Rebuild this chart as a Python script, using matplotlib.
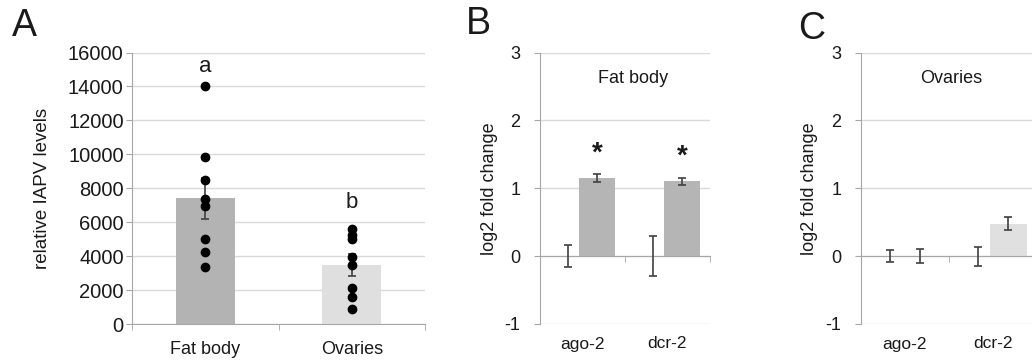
import matplotlib
matplotlib.use("Agg")
import matplotlib.pyplot as plt
import numpy as np

plt.rcParams['font.family'] = ['Liberation Sans', 'DejaVu Sans']
plt.rcParams['font.size'] = 12

# Panel A: relative IAPV levels
tissues = ["Fat body", "Ovaries"]
iapv_mean = [7410, 3470]
iapv_sem = [1220, 640]
iapv_points = [
    [14000, 9850, 8500, 7350, 6950, 5000, 4250, 3350],
    [5600, 5250, 5000, 3950, 3450, 2100, 1600, 900],
]
iapv_letters = ["a", "b"]
iapv_letter_y = [15200, 7150]

# Panels B and C: log2 fold change (control vs treatment)
genes = ["ago-2", "dcr-2"]
fat_ctrl = [0.0, 0.0]
fat_ctrl_err = [0.16, 0.30]
fat_treat = [1.15, 1.10]
fat_treat_err = [0.055, 0.05]
fat_signif = ["*", "*"]

ova_ctrl = [0.0, 0.0]
ova_ctrl_err = [0.09, 0.14]
ova_treat = [0.0, 0.48]
ova_treat_err = [0.105, 0.09]

grid_c = "#d9d9d9"
spine_c = "#a6a6a6"
err_c = "#404040"
txt_c = "#1a1a1a"

fig = plt.figure(figsize=(10.32, 3.6), dpi=100)


def style_axes(ax, pad, size):
    ax.set_axisbelow(True)
    ax.yaxis.grid(True, color=grid_c, lw=1.0)
    for s in ["top", "right"]:
        ax.spines[s].set_visible(False)
    ax.spines["left"].set_color(spine_c)
    ax.spines["bottom"].set_color(spine_c)
    ax.tick_params(axis="y", direction="out", length=4, color=spine_c, pad=pad,
                   labelsize=size, labelcolor=txt_c)


# ---- A ----
axA = fig.add_axes([132 / 1032, 0.1, 293 / 1032, 271.5 / 360])
style_axes(axA, 2, 14.5)
xA = np.arange(len(tissues))
axA.bar(xA, iapv_mean, width=0.4, color=["#b3b3b3", "#dfdfdf"], zorder=2)
axA.errorbar(xA, iapv_mean, yerr=iapv_sem, fmt="none", ecolor=err_c, elinewidth=1.2,
             capsize=3, capthick=1.2, zorder=3)
for i, pts in enumerate(iapv_points):
    axA.scatter([xA[i]] * len(pts), pts, s=36, color="black", zorder=4)
    axA.text(xA[i], iapv_letter_y[i], iapv_letters[i], ha="center", va="center",
             fontsize=16, color=txt_c)
axA.set_xlim(-0.5, 1.5)
axA.set_ylim(0, 16000)
axA.set_yticks(np.arange(0, 16001, 2000))
axA.set_xticks(xA)
axA.set_xticklabels(tissues, fontsize=13, color=txt_c)
axA.tick_params(axis="x", which="major", length=0, pad=12)
axA.set_xticks([-0.5, 0.5, 1.5], minor=True)
axA.tick_params(axis="x", which="minor", direction="out", length=4, color=spine_c)
axA.set_ylabel("relative IAPV levels", fontsize=13.5, color=txt_c)
axA.yaxis.set_label_coords(-0.276, 0.5)


def fold_panel(left, width, ctrl, ctrl_err, treat, treat_err, color, title, title_x,
               label_x, signif=None):
    ax = fig.add_axes([left, 0.1, width, 271.5 / 360])
    style_axes(ax, 10, 13)
    x = np.arange(len(genes))
    off = 0.17
    ax.bar(x + off, treat, width=0.42, color=color, zorder=2)
    ax.errorbar(x - off, ctrl, yerr=ctrl_err, fmt="none", ecolor=err_c, elinewidth=1.2,
                capsize=3, capthick=1.2, zorder=3)
    ax.errorbar(x + off, treat, yerr=treat_err, fmt="none", ecolor=err_c, elinewidth=1.2,
                capsize=3, capthick=1.2, zorder=3)
    if signif:
        for i, s in enumerate(signif):
            ax.text(x[i] + off, treat[i] + 0.36, s, ha="center", va="center",
                    fontsize=20, fontweight="bold", color=txt_c)
    ax.set_xlim(-0.5, 1.5)
    ax.set_ylim(-1, 3)
    ax.set_yticks([-1, 0, 1, 2, 3])
    ax.set_yticklabels(["-1", "0", "1", "2", "3"])
    ax.spines["bottom"].set_position(("data", 0))
    ax.set_xticks([])
    ax.set_xticks([0.5, 1.5], minor=True)
    ax.tick_params(axis="x", which="minor", direction="out", length=4, color=spine_c,
                   labelbottom=False)
    sec = ax.secondary_xaxis("bottom")
    sec.set_xticks(x)
    sec.set_xticklabels(genes, fontsize=12.5, color=txt_c)
    sec.tick_params(length=0, pad=9)
    sec.spines["bottom"].set_visible(False)
    ax.text(title_x, 2.62, title, ha="center", va="center", fontsize=13, color=txt_c)
    ax.set_ylabel("log2 fold change", fontsize=13, color=txt_c)
    ax.yaxis.set_label_coords(label_x, 0.5)
    return ax


fold_panel(540 / 1032, 170 / 1032, fat_ctrl, fat_ctrl_err, fat_treat, fat_treat_err,
           "#b5b5b5", "Fat body", 0.59, -0.247, fat_signif)
fold_panel(860.7 / 1032, 176.6 / 1032, ova_ctrl, ova_ctrl_err, ova_treat, ova_treat_err,
           "#e0e0e0", "Ovaries", 0.53, -0.242)

fig.text(12 / 1032, 1 - 8 / 360, "A", fontsize=27, va="top", ha="left", color=txt_c)
fig.text(466 / 1032, 1 - 6 / 360, "B", fontsize=27, va="top", ha="left", color=txt_c)
fig.text(798 / 1032, 1 - 11 / 360, "C", fontsize=27, va="top", ha="left", color=txt_c)

fig.savefig("out.png", dpi=100)
